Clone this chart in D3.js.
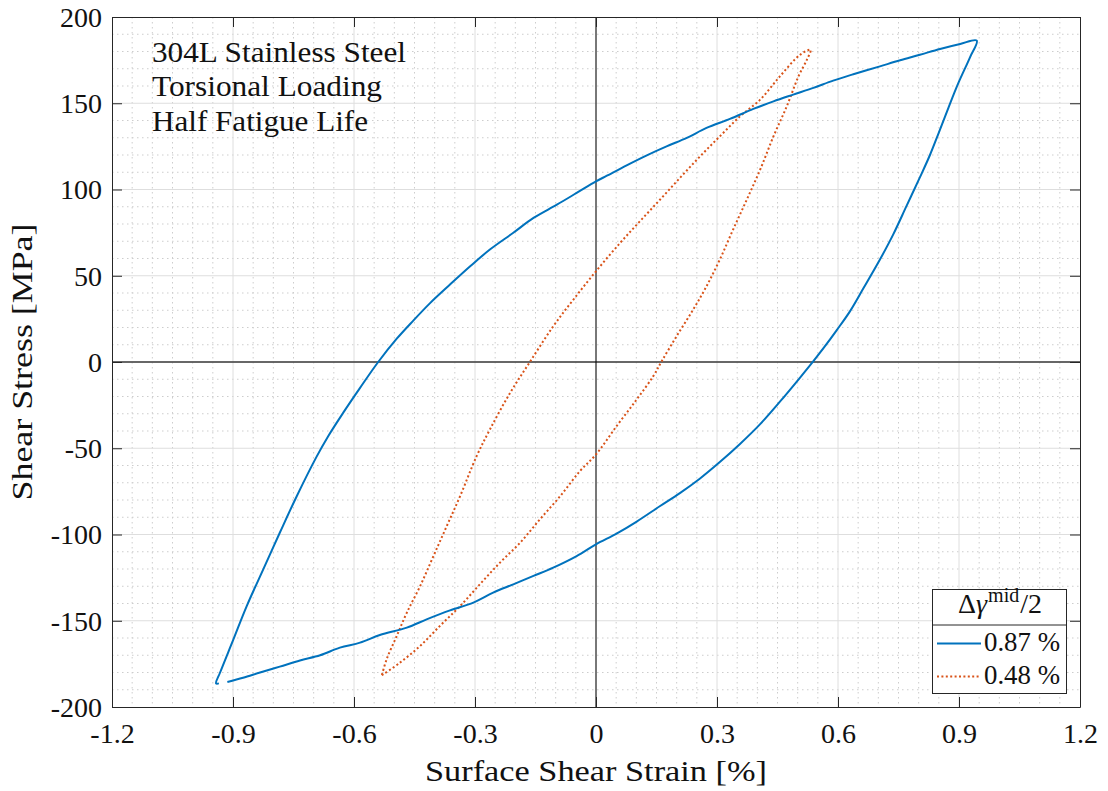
<!DOCTYPE html>
<html>
<head>
<meta charset="utf-8">
<script src="https://cdn.jsdelivr.net/npm/d3@7"></script>
<style>
  html, body { margin: 0; padding: 0; background: #fff; }
  svg { display: block; font-family: "Liberation Serif", "Times New Roman", serif; }
</style>
</head>
<body>
<svg id="chart" width="1108" height="791"></svg>
<script>
// Hysteresis loops, torsional fatigue of 304L stainless steel (half life)
const xTickValues = [-1.2, -0.9, -0.6, -0.3, 0, 0.3, 0.6, 0.9, 1.2];
const xTickLabels = ["-1.2", "-0.9", "-0.6", "-0.3", "0", "0.3", "0.6", "0.9", "1.2"];
const yTickValues = [-200, -150, -100, -50, 0, 50, 100, 150, 200];
const yTickLabels = ["-200", "-150", "-100", "-50", "0", "50", "100", "150", "200"];

const seriesNames = ["0.87 %", "0.48 %"];

// 0.87 % loop: loading branch, then unloading branch
const strainA = [
  -0.914, -0.875, -0.833, -0.784, -0.734, -0.684, -0.635, -0.585, -0.536, -0.469,
  -0.420, -0.362, -0.304, -0.255, -0.205, -0.155, -0.106, -0.048, 0.000, 0.051,
  0.101, 0.159, 0.208, 0.258, 0.307, 0.357, 0.407, 0.456, 0.506, 0.539,
  0.564, 0.597, 0.630, 0.663, 0.704, 0.737, 0.770, 0.803, 0.828, 0.850,
  0.874, 0.898, 0.927, 0.944,
  0.903, 0.853, 0.803, 0.754, 0.704, 0.638, 0.588, 0.539, 0.489, 0.440,
  0.390, 0.332, 0.274, 0.225, 0.175, 0.126, 0.076, 0.027, 0.000, -0.048,
  -0.097, -0.155, -0.205, -0.263, -0.312, -0.362, -0.412, -0.453, -0.494, -0.540,
  -0.585, -0.627, -0.664, -0.693, -0.742, -0.784, -0.825, -0.866, -0.899, -0.932,
  -0.942, -0.935
];
const stressA = [
  -185.5, -183.0, -180.0, -176.6, -173.0, -170.0, -165.6, -162.7, -158.3, -154.0,
  -149.2, -144.0, -139.5, -133.7, -128.9, -124.0, -119.2, -112.5, -105.7, -99.5,
  -92.5, -83.5, -76.0, -67.5, -58.0, -47.5, -36.0, -23.0, -9.0, 0.5,
  8.0, 18.5, 29.5, 42.7, 59.4, 74.0, 90.5, 107.0, 120.0, 133.0,
  147.5, 161.5, 176.5, 186.3,
  184.4, 181.5, 178.1, 174.9, 171.4, 166.8, 163.1, 158.9, 155.0, 151.1,
  146.7, 140.9, 135.7, 129.9, 125.0, 119.8, 114.0, 108.0, 104.7, 98.0,
  91.2, 83.5, 74.9, 65.2, 55.5, 44.9, 34.0, 24.0, 13.5, 0.0,
  -15.0, -29.5, -43.0, -55.0, -77.8, -99.0, -120.2, -141.5, -160.8, -180.0,
  -186.3, -186.3
];

// 0.48 % loop
const strainB = [
  -0.531, -0.486, -0.436, -0.387, -0.337, -0.288, -0.238, -0.188, -0.139, -0.089,
  -0.040, 0.000, 0.051, 0.101, 0.142, 0.163, 0.200, 0.241, 0.274, 0.307,
  0.340, 0.374, 0.407, 0.440, 0.473, 0.502, 0.523, 0.532,
  0.506, 0.456, 0.407, 0.357, 0.307, 0.258, 0.208, 0.159, 0.109, 0.060,
  0.000, -0.056, -0.106, -0.164, -0.213, -0.263, -0.296, -0.337, -0.370, -0.403,
  -0.436, -0.469, -0.494, -0.519, -0.531
];
const stressB = [
  -181.6, -174.3, -164.6, -153.0, -141.5, -128.9, -116.3, -104.7, -91.2, -77.8,
  -63.3, -53.6, -37.2, -21.7, -8.2, 0.5, 15.0, 30.4, 43.9, 59.4,
  76.8, 94.2, 111.5, 130.8, 148.2, 165.6, 175.3, 181.0,
  178.1, 165.6, 152.1, 142.4, 130.8, 119.2, 106.7, 94.2, 81.6, 69.1,
  52.6, 36.2, 20.7, 0.0, -17.9, -39.1, -54.6, -77.8, -95.1, -112.5,
  -129.9, -145.3, -158.8, -172.3, -181.6
];

const annotationLines = ["304L Stainless Steel", "Torsional Loading", "Half Fatigue Life"];

const svg = d3.select("#chart");
const W = 1108, H = 791;
const m = { left: 112, right: 1080, top: 17, bottom: 707 };

const x = d3.scaleLinear().domain([-1.2, 1.2]).range([m.left, m.right]);
const y = d3.scaleLinear().domain([-200, 200]).range([m.bottom, m.top]);

const ink = "#262626";
const blue = "#0072BD";
const orange = "#D95319";

svg.append("rect").attr("width", W).attr("height", H).attr("fill", "#fff");

const g = svg.append("g");

// minor grid
const xMinor = d3.range(-1.2, 1.2001, 0.05).map(v => +v.toFixed(2)).filter(v => !xTickValues.some(t => Math.abs(t - v) < 1e-6));
const yMinor = d3.range(-200, 200.1, 10).filter(v => v % 50 !== 0);
g.append("g").selectAll("line").data(xMinor).join("line")
  .attr("x1", d => x(d)).attr("x2", d => x(d))
  .attr("y1", m.top).attr("y2", m.bottom)
  .attr("stroke", "#cdcdcd").attr("stroke-width", 1).attr("stroke-dasharray", "1.5,3.5");
g.append("g").selectAll("line").data(yMinor).join("line")
  .attr("y1", d => y(d)).attr("y2", d => y(d))
  .attr("x1", m.left).attr("x2", m.right)
  .attr("stroke", "#cdcdcd").attr("stroke-width", 1).attr("stroke-dasharray", "1.5,3.5");

// major grid
g.append("g").selectAll("line").data(xTickValues.slice(1, -1)).join("line")
  .attr("x1", d => x(d)).attr("x2", d => x(d))
  .attr("y1", m.top).attr("y2", m.bottom)
  .attr("stroke", "#dedede").attr("stroke-width", 1);
g.append("g").selectAll("line").data(yTickValues.slice(1, -1)).join("line")
  .attr("y1", d => y(d)).attr("y2", d => y(d))
  .attr("x1", m.left).attr("x2", m.right)
  .attr("stroke", "#dedede").attr("stroke-width", 1);

// zero lines
g.append("line").attr("x1", m.left).attr("x2", m.right).attr("y1", y(0)).attr("y2", y(0))
  .attr("stroke", "#3a3a3a").attr("stroke-width", 1.4);
g.append("line").attr("x1", x(0)).attr("x2", x(0)).attr("y1", m.top).attr("y2", m.bottom)
  .attr("stroke", "#000").attr("stroke-width", 1);

// loops
const line = d3.line().x(d => x(d[0])).y(d => y(d[1])).curve(d3.curveCatmullRom.alpha(0.5));
const loopA = strainA.map((v, i) => [v, stressA[i]]);
const loopB = strainB.map((v, i) => [v, stressB[i]]);

g.append("path").datum(loopB).attr("d", line)
  .attr("fill", "none").attr("stroke", orange).attr("stroke-width", 2)
  .attr("stroke-dasharray", "2,2.4");
g.append("path").datum(loopA).attr("d", line)
  .attr("fill", "none").attr("stroke", blue).attr("stroke-width", 2)
  .attr("stroke-linejoin", "round");

// axes with inward ticks on all sides
const fs = 28;
const axB = g.append("g").attr("transform", `translate(0,${m.bottom})`)
  .call(d3.axisBottom(x).tickValues(xTickValues).tickFormat((d, i) => xTickLabels[i])
    .tickSizeInner(-10).tickSizeOuter(0));
const axL = g.append("g").attr("transform", `translate(${m.left},0)`)
  .call(d3.axisLeft(y).tickValues(yTickValues).tickFormat((d, i) => yTickLabels[i])
    .tickSizeInner(-10).tickSizeOuter(0));
const axT = g.append("g").attr("transform", `translate(0,${m.top})`)
  .call(d3.axisTop(x).tickValues(xTickValues).tickFormat("").tickSizeInner(-10).tickSizeOuter(0));
const axR = g.append("g").attr("transform", `translate(${m.right},0)`)
  .call(d3.axisRight(y).tickValues(yTickValues).tickFormat("").tickSizeInner(-10).tickSizeOuter(0));

[axB, axL, axT, axR].forEach(a => {
  a.attr("font-family", null).attr("font-size", fs);
  a.select(".domain").attr("stroke", ink).attr("stroke-width", 1);
  a.selectAll(".tick line").attr("stroke", ink).attr("stroke-width", 1);
  a.selectAll("text").attr("fill", "#111");
});
axB.selectAll(".tick text").attr("y", 36).attr("dy", null);
axL.selectAll(".tick text").attr("x", -10).attr("dy", "0.33em");

// axis labels
svg.append("text").attr("x", (m.left + m.right) / 2).attr("y", 781)
  .attr("text-anchor", "middle").attr("font-size", 30).attr("fill", "#111")
  .attr("textLength", 342).attr("lengthAdjust", "spacingAndGlyphs")
  .text("Surface Shear Strain [%]");
svg.append("text").attr("transform", `translate(32,${(m.top + m.bottom) / 2}) rotate(-90)`)
  .attr("text-anchor", "middle").attr("font-size", 30).attr("fill", "#111")
  .attr("textLength", 277).attr("lengthAdjust", "spacingAndGlyphs")
  .text("Shear Stress [MPa]");

// annotation
const annWidths = [254, 230, 216];
svg.append("g").selectAll("text").data(annotationLines).join("text")
  .attr("x", 152).attr("y", (d, i) => 61.5 + i * 34.5)
  .attr("font-size", 29).attr("fill", "#111")
  .attr("textLength", (d, i) => annWidths[i]).attr("lengthAdjust", "spacingAndGlyphs")
  .text(d => d);

// legend
const lg = svg.append("g");
const lx0 = 932.5, lx1 = 1066.5, ly0 = 589.5, ly1 = 693.5, ldiv = 625;
lg.append("rect").attr("x", lx0).attr("y", ly0).attr("width", lx1 - lx0).attr("height", ly1 - ly0)
  .attr("fill", "#fff").attr("stroke", ink).attr("stroke-width", 1);
lg.append("line").attr("x1", lx0).attr("x2", lx1).attr("y1", ldiv).attr("y2", ldiv)
  .attr("stroke", ink).attr("stroke-width", 1);
const title = lg.append("text").attr("x", 1000).attr("y", 613).attr("text-anchor", "middle")
  .attr("font-size", 28).attr("fill", "#111");
title.append("tspan").text("\u0394");
title.append("tspan").attr("font-style", "italic").text("\u03B3");
title.append("tspan").attr("font-size", 20).attr("dy", -11).attr("dx", 1).text("mid");
title.append("tspan").attr("dy", 11).attr("dx", 1).text("/2");

const legendColors = [blue, orange];
const legendDash = [null, "2,2.4"];
const legendY = [643.5, 676.5];
seriesNames.forEach((name, i) => {
  lg.append("line").attr("x1", 937).attr("x2", 981).attr("y1", legendY[i]).attr("y2", legendY[i])
    .attr("stroke", legendColors[i]).attr("stroke-width", 2)
    .attr("stroke-dasharray", legendDash[i]);
  lg.append("text").attr("x", 984).attr("y", legendY[i] + 7).attr("font-size", 28)
    .attr("fill", "#111").attr("textLength", 76).attr("lengthAdjust", "spacingAndGlyphs")
    .text(name);
});
</script>
</body>
</html>
